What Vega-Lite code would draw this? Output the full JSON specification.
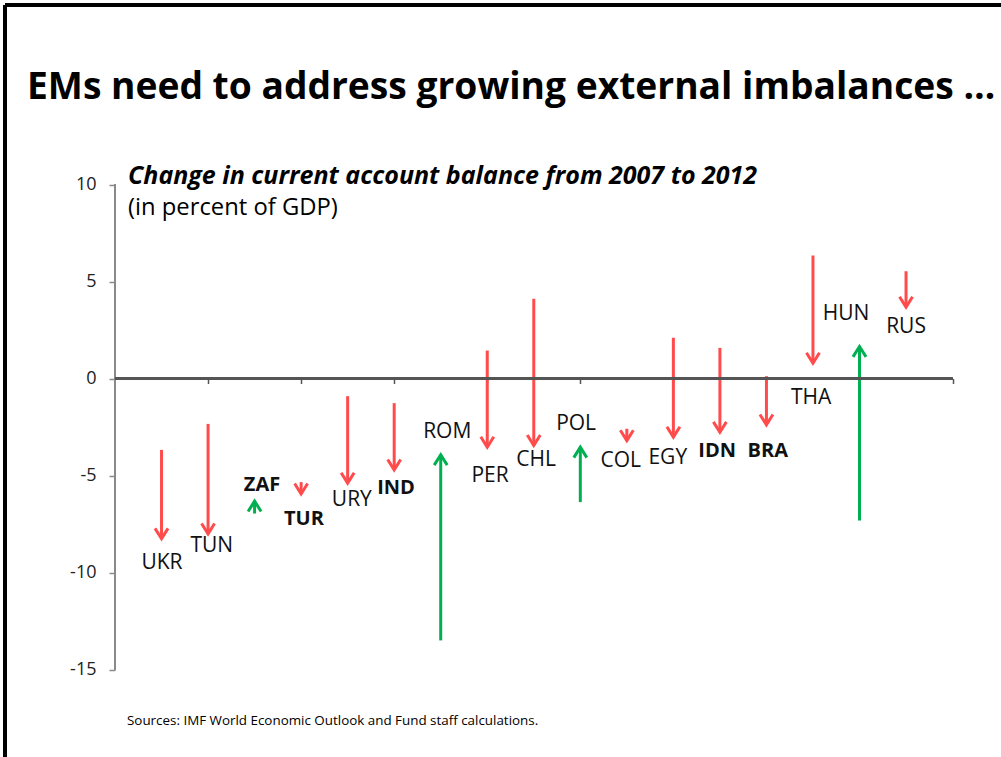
{
  "$schema": "https://vega.github.io/schema/vega-lite/v6.json",
  "autosize": {"type": "none"},
  "width": 996,
  "height": 752,
  "padding": {"left": 5, "top": 5, "right": 0, "bottom": 0},
  "background": "white",
  "config": {
    "view": {"stroke": null},
    "font": "Open Sans",
    "text": {"font": "Open Sans"}
  },
  "resolve": {"axis": {"x": "independent", "y": "independent"}},
  "datasets": {
    "ca": [
      {"country": "UKR", "pos": 1, "ca2007": -3.68, "ca2012": -8.26, "lx": 1.01, "ly": -9.51, "fragile": false},
      {"country": "TUN", "pos": 2, "ca2007": -2.34, "ca2012": -8.01, "lx": 2.08, "ly": -8.63, "fragile": false},
      {"country": "ZAF", "pos": 3, "ca2007": -6.96, "ca2012": -6.32, "lx": 3.16, "ly": -5.49, "fragile": true},
      {"country": "TUR", "pos": 4, "ca2007": -5.34, "ca2012": -5.95, "lx": 4.06, "ly": -7.24, "fragile": true},
      {"country": "URY", "pos": 5, "ca2007": -0.91, "ca2012": -5.39, "lx": 5.09, "ly": -6.26, "fragile": false},
      {"country": "IND", "pos": 6, "ca2007": -1.27, "ca2012": -4.71, "lx": 6.04, "ly": -5.64, "fragile": true},
      {"country": "ROM", "pos": 7, "ca2007": -13.5, "ca2012": -3.93, "lx": 7.14, "ly": -2.76, "fragile": false},
      {"country": "PER", "pos": 8, "ca2007": 1.44, "ca2012": -3.54, "lx": 8.06, "ly": -5.03, "fragile": false},
      {"country": "CHL", "pos": 9, "ca2007": 4.11, "ca2012": -3.45, "lx": 9.05, "ly": -4.2, "fragile": false},
      {"country": "POL", "pos": 10, "ca2007": -6.37, "ca2012": -3.54, "lx": 9.91, "ly": -2.35, "fragile": false},
      {"country": "COL", "pos": 11, "ca2007": -2.59, "ca2012": -3.2, "lx": 10.87, "ly": -4.25, "fragile": false},
      {"country": "EGY", "pos": 12, "ca2007": 2.1, "ca2012": -3.02, "lx": 11.88, "ly": -4.1, "fragile": false},
      {"country": "IDN", "pos": 13, "ca2007": 1.58, "ca2012": -2.77, "lx": 12.94, "ly": -3.74, "fragile": true},
      {"country": "BRA", "pos": 14, "ca2007": 0.12, "ca2012": -2.39, "lx": 14.03, "ly": -3.74, "fragile": true},
      {"country": "THA", "pos": 15, "ca2007": 6.34, "ca2012": 0.79, "lx": 14.96, "ly": -1.0, "fragile": false},
      {"country": "HUN", "pos": 16, "ca2007": -7.32, "ca2012": 1.65, "lx": 15.71, "ly": 3.32, "fragile": false},
      {"country": "RUS", "pos": 17, "ca2007": 5.53, "ca2012": 3.68, "lx": 17.0, "ly": 2.65, "fragile": false}
    ]
  },
  "data": {"name": "ca"},
  "layer": [
    {
      "mark": {"type": "rule", "strokeWidth": 3},
      "encoding": {
        "x": {"field": "pos", "type": "quantitative",
              "scale": {"domain": [-2.364, 19.041], "nice": false, "zero": false},
              "axis": {"orient": "bottom", "offset": -378.5, "values": [2, 4, 6, 8, 10, 12, 14, 16, 18],
                       "labels": false, "domain": false, "grid": false, "ticks": true, "tickSize": 5,
                       "tickColor": "#555555", "tickWidth": 1.5, "title": null}},
        "y": {"field": "ca2007", "type": "quantitative",
              "scale": {"domain": [-19.51, 19.253], "nice": false, "zero": false},
              "axis": {"orient": "left", "offset": -110, "values": [-15, -10, -5, 0, 5, 10],
                       "domain": false, "grid": false, "tickSize": 6, "tickColor": "#8a8a8a", "tickWidth": 1.5,
                       "labelFont": "Open Sans", "labelFontSize": 18, "labelColor": "#222222", "labelPadding": 13,
                       "labelExpr": "datum.value + ''", "title": null}},
        "y2": {"field": "ca2012"},
        "color": {"condition": {"test": "datum.ca2012 < datum.ca2007", "value": "#ff4b4b"}, "value": "#00b050"}
      }
    },
    {
      "mark": {"type": "point", "filled": false, "strokeWidth": 3, "size": 169, "opacity": 1, "strokeJoin": "miter"},
      "encoding": {
        "x": {"field": "pos", "type": "quantitative", "scale": {"domain": [-2.364, 19.041], "nice": false, "zero": false}, "axis": null},
        "y": {"field": "ca2012", "type": "quantitative", "scale": {"domain": [-19.51, 19.253], "nice": false, "zero": false}, "axis": null},
        "color": {"condition": {"test": "datum.ca2012 < datum.ca2007", "value": "#ff4b4b"}, "value": "#00b050"},
        "shape": {"condition": {"test": "datum.ca2012 < datum.ca2007", "value": "M-1,-1.6L0,0L1,-1.6"}, "value": "M-1,1.6L0,0L1,1.6"}
      }
    },
    {
      "mark": {"type": "rule", "color": "#8a8a8a", "strokeWidth": 1.5},
      "encoding": {
        "x": {"datum": 0, "type": "quantitative", "scale": {"domain": [-2.364, 19.041], "nice": false, "zero": false}, "axis": null},
        "y": {"datum": -15, "type": "quantitative", "scale": {"domain": [-19.51, 19.253], "nice": false, "zero": false}, "axis": null},
        "y2": {"datum": 10}
      }
    },
    {
      "mark": {"type": "rule", "color": "#555555", "strokeWidth": 1.5},
      "encoding": {
        "x": {"datum": 0, "type": "quantitative", "scale": {"domain": [-2.364, 19.041], "nice": false, "zero": false}, "axis": null},
        "x2": {"datum": 18},
        "y": {"datum": 0, "type": "quantitative", "scale": {"domain": [-19.51, 19.253], "nice": false, "zero": false}, "axis": null}
      }
    },
    {
      "mark": {"type": "rule", "color": "black", "strokeWidth": 3},
      "encoding": {
        "x": {"datum": -2.364, "type": "quantitative", "scale": {"domain": [-2.364, 19.041], "nice": false, "zero": false}, "axis": null},
        "x2": {"datum": 19.041},
        "y": {"datum": 19.253, "type": "quantitative", "scale": {"domain": [-19.51, 19.253], "nice": false, "zero": false}, "axis": null}
      }
    },
    {
      "mark": {"type": "rule", "color": "black", "strokeWidth": 3},
      "encoding": {
        "x": {"datum": -2.364, "type": "quantitative", "scale": {"domain": [-2.364, 19.041], "nice": false, "zero": false}, "axis": null},
        "y": {"datum": 19.253, "type": "quantitative", "scale": {"domain": [-19.51, 19.253], "nice": false, "zero": false}, "axis": null},
        "y2": {"datum": -19.51}
      }
    },
    {
      "transform": [{"filter": "!datum.fragile"}],
      "mark": {"type": "text", "fontSize": 21, "color": "#111111", "align": "center", "baseline": "middle"},
      "encoding": {
        "x": {"field": "lx", "type": "quantitative", "scale": {"domain": [-2.364, 19.041], "nice": false, "zero": false}, "axis": null},
        "y": {"field": "ly", "type": "quantitative", "scale": {"domain": [-19.51, 19.253], "nice": false, "zero": false}, "axis": null},
        "text": {"field": "country"}
      }
    },
    {
      "transform": [{"filter": "datum.fragile"}],
      "mark": {"type": "text", "fontSize": 20, "fontWeight": "bold", "color": "#111111", "align": "center", "baseline": "middle"},
      "encoding": {
        "x": {"field": "lx", "type": "quantitative", "scale": {"domain": [-2.364, 19.041], "nice": false, "zero": false}, "axis": null},
        "y": {"field": "ly", "type": "quantitative", "scale": {"domain": [-19.51, 19.253], "nice": false, "zero": false}, "axis": null},
        "text": {"field": "country"}
      }
    },
    {
      "data": {"values": [{"t": "EMs need to address growing external imbalances \u2026"}]},
      "mark": {"type": "text", "fontSize": 37.2, "fontWeight": "bold", "color": "black", "align": "left", "baseline": "alphabetic"},
      "encoding": {
        "x": {"datum": -1.891, "type": "quantitative", "scale": {"domain": [-2.364, 19.041], "nice": false, "zero": false}, "axis": null},
        "y": {"datum": 14.41, "type": "quantitative", "scale": {"domain": [-19.51, 19.253], "nice": false, "zero": false}, "axis": null},
        "text": {"field": "t"}
      }
    },
    {
      "data": {"values": [{"t": "Change in current account balance from 2007 to 2012"}]},
      "mark": {"type": "text", "fontSize": 25, "fontWeight": "bold", "fontStyle": "italic", "color": "black", "align": "left", "baseline": "alphabetic"},
      "encoding": {
        "x": {"datum": 0.279, "type": "quantitative", "scale": {"domain": [-2.364, 19.041], "nice": false, "zero": false}, "axis": null},
        "y": {"datum": 10.03, "type": "quantitative", "scale": {"domain": [-19.51, 19.253], "nice": false, "zero": false}, "axis": null},
        "text": {"field": "t"}
      }
    },
    {
      "data": {"values": [{"t": "(in percent of GDP)"}]},
      "mark": {"type": "text", "fontSize": 23.8, "color": "black", "align": "left", "baseline": "alphabetic"},
      "encoding": {
        "x": {"datum": 0.279, "type": "quantitative", "scale": {"domain": [-2.364, 19.041], "nice": false, "zero": false}, "axis": null},
        "y": {"datum": 8.43, "type": "quantitative", "scale": {"domain": [-19.51, 19.253], "nice": false, "zero": false}, "axis": null},
        "text": {"field": "t"}
      }
    },
    {
      "data": {"values": [{"t": "Sources: IMF World Economic Outlook and Fund staff calculations."}]},
      "mark": {"type": "text", "fontSize": 13.4, "color": "black", "align": "left", "baseline": "alphabetic"},
      "encoding": {
        "x": {"datum": 0.258, "type": "quantitative", "scale": {"domain": [-2.364, 19.041], "nice": false, "zero": false}, "axis": null},
        "y": {"datum": -17.86, "type": "quantitative", "scale": {"domain": [-19.51, 19.253], "nice": false, "zero": false}, "axis": null},
        "text": {"field": "t"}
      }
    }
  ]
}
